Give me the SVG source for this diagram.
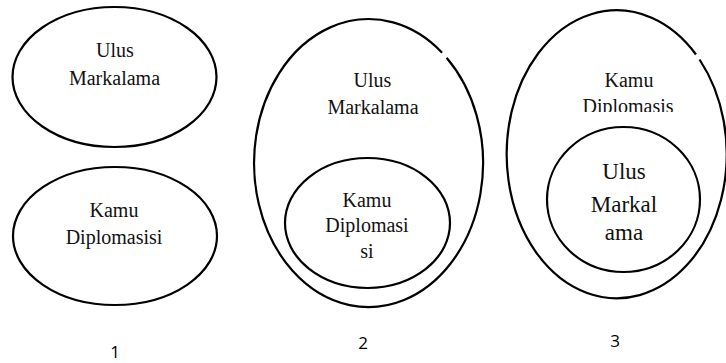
<svg xmlns="http://www.w3.org/2000/svg" width="726" height="363" viewBox="0 0 726 363">
<style>
.sh{fill:none;stroke:#000;stroke-width:2.2}
.t{font-family:'Liberation Serif','Times New Roman',serif;font-size:20px;fill:#111;text-anchor:middle}
.big{font-size:23px}
.n{font-family:'Open Sans','Liberation Sans',sans-serif;font-size:17px;fill:#000;text-anchor:middle}
</style>
<defs>
<clipPath id="cut"><rect x="560" y="60" width="166" height="52"/></clipPath>
</defs>
<g id="a-ulus">
<ellipse class="sh" cx="114.5" cy="77" rx="102" ry="70"/>
<text class="t" x="115" y="57">Ulus</text>
<text class="t" x="114.5" y="85">Markalama</text>
</g>
<g id="a-kamu">
<ellipse class="sh" cx="115" cy="236" rx="102" ry="69"/>
<text class="t" x="114" y="217">Kamu</text>
<text class="t" x="114" y="243.5">Diplomasisi</text>
</g>
<g id="b-ulus">
<path class="sh" d="M446.6,57.7 A114.5 144 0 1 1 442.1,52.7"/>
<text class="t" x="372.5" y="87">Ulus</text>
<text class="t" x="373" y="113.5">Markalama</text>
</g>
<g id="b-kamu">
<ellipse class="sh" cx="367.5" cy="223" rx="82.5" ry="65"/>
<text class="t" x="367" y="207">Kamu</text>
<text class="t" x="367" y="232">Diplomasi</text>
<text class="t" x="367" y="258">si</text>
</g>
<g id="c-kamu">
<path class="sh" d="M699.5,59.5 A110 144 0 1 1 696,54.5"/>
<text class="t" x="629" y="87">Kamu</text>
<text class="t" x="628" y="113" clip-path="url(#cut)">Diplomasis</text>
</g>
<g id="c-ulus">
<ellipse class="sh" cx="623.5" cy="199.5" rx="76.5" ry="72.5"/>
<text class="t big" x="624" y="178.5">Ulus</text>
<text class="t big" x="624" y="212">Markal</text>
<text class="t big" x="624" y="240">ama</text>
</g>
<g id="labels">
<text class="n" x="115" y="358">1</text>
<text class="n" x="363" y="349">2</text>
<text class="n" x="615" y="347">3</text>
</g>
<g id="connectors"/>
</svg>
